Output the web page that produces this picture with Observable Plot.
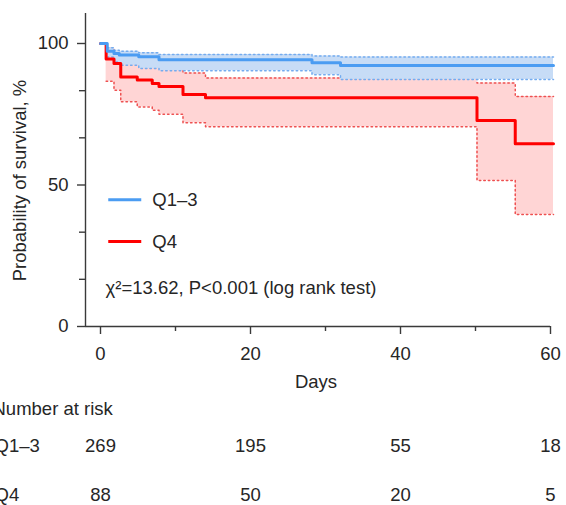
<!DOCTYPE html>
<html>
<head>
<meta charset="utf-8">
<script src="https://cdn.jsdelivr.net/npm/d3@7"></script>
<script src="https://cdn.jsdelivr.net/npm/@observablehq/plot@0.6"></script>
<style>
  body { margin: 0; background: #fff; }
  svg { display: block; }
</style>
</head>
<body>
<div id="chart"></div>
<script>
// ---- data ----
const groups = ["Q1–3", "Q4"];

const q13Days  = [0, 0.9, 1.8, 2.5, 5.1, 7.8, 28.2, 32, 60.4];
const q13Surv  = [100, 97.3, 96.5, 95.9, 95.3, 94.3, 93.2, 92.2, 92.2];
const q13Upper = [null, 98.5, 97.6, 97.3, 96.7, 96.1, 95.6, 95.2, 95.2];
const q13Lower = [null, 95.2, 93.5, 92.3, 91.2, 90.4, 89.0, 87.3, 87.3];

const q4Days  = [0, 0.75, 1.8, 2.7, 4.9, 6.9, 7.8, 11, 14, 50.2, 55.3, 60.4];
const q4Surv  = [100, 94.5, 92.9, 88.2, 87.1, 85.9, 84.8, 82.0, 80.8, 72.8, 64.6, 64.6];
const q4Upper = [null, 98.3, 97.2, 95.0, 94.2, 93.2, 92.4, 89.6, 87.8, 86.0, 81.3, 81.3];
const q4Lower = [null, 86.7, 83.5, 79.4, 77.6, 76.4, 75.0, 72.0, 70.6, 51.6, 39.6, 39.6];

const xTicks = [0, 20, 40, 60];
const xMinorTicks = [10, 30, 50];
const yTicks = [0, 50, 100];
const yMinorTicks = [16.67, 33.33, 66.67, 83.33];

const riskDays = [0, 20, 40, 60];
const riskQ13 = [269, 195, 55, 18];
const riskQ4 = [88, 50, 20, 5];

const statText = "χ²=13.62, P<0.001 (log rank test)";
const yLabel = "Probability of survival, %";
const xLabel = "Days";
const riskTitle = "Number at risk";

// ---- build tables ----
function rows(days, surv, upper, lower) {
  return days.map((d, i) => ({day: d, surv: surv[i], upper: upper[i], lower: lower[i]}));
}
const q13 = rows(q13Days, q13Surv, q13Upper, q13Lower);
const q4 = rows(q4Days, q4Surv, q4Upper, q4Lower);
const q13ci = q13.filter(d => d.upper != null);
const q4ci = q4.filter(d => d.upper != null);

const FONT = "'Liberation Sans', Arial, Helvetica, sans-serif";
const FS = 18.5;
const BLUE = "#4b9cf2", BLUE_FILL = "#c7dcf6", BLUE_DOT = "#74acef";
const RED = "#ff0000", RED_FILL = "#ffd5d5", RED_DOT = "#ee5050";
const AX = "#3a3a3a";
const dotted = {curve: "step-after", strokeWidth: 1.5, strokeDasharray: "1.5,3"};
const mid = {lineAnchor: "middle"};

const chart = Plot.plot({
  width: 566,
  height: 505,
  marginLeft: 85,
  marginRight: 16,
  marginTop: 13,
  marginBottom: 179,
  style: {fontFamily: FONT, fontSize: FS + "px", color: "#262626", background: "white", overflow: "visible"},
  x: {domain: [-2, 60]},
  y: {domain: [0, 110.6]},
  marks: [
    // Q4 confidence band
    Plot.areaY(q4ci, {x: "day", y1: "lower", y2: "upper", curve: "step-after", fill: RED_FILL}),
    Plot.line(q4ci, {x: "day", y: "upper", stroke: RED_DOT, ...dotted}),
    Plot.line(q4ci, {x: "day", y: "lower", stroke: RED_DOT, ...dotted}),
    // Q1-3 confidence band
    Plot.areaY(q13ci, {x: "day", y1: "lower", y2: "upper", curve: "step-after", fill: BLUE_FILL}),
    Plot.line(q13ci, {x: "day", y: "upper", stroke: BLUE_DOT, ...dotted}),
    Plot.line(q13ci, {x: "day", y: "lower", stroke: BLUE_DOT, ...dotted}),
    // survival curves
    Plot.line(q4, {x: "day", y: "surv", curve: "step-after", stroke: RED, strokeWidth: 3}),
    Plot.line(q13, {x: "day", y: "surv", curve: "step-after", stroke: BLUE, strokeWidth: 3}),
    // axes lines
    Plot.ruleY([0], {stroke: AX, strokeWidth: 1.4}),
    Plot.ruleX([-2], {stroke: AX, strokeWidth: 1.4}),
    Plot.axisX({ticks: xTicks, tickSize: 8, tickPadding: 12, label: null, stroke: AX, strokeWidth: 1.4, fill: "#262626"}),
    Plot.axisX({ticks: xMinorTicks, tickSize: 5, label: null, stroke: AX, strokeWidth: 1.4, fill: "none"}),
    Plot.axisY({ticks: yTicks, tickSize: 8, tickPadding: 9, label: null, stroke: AX, strokeWidth: 1.4, fill: "#262626"}),
    Plot.axisY({ticks: yMinorTicks, tickSize: 6, label: null, stroke: AX, strokeWidth: 1.4, fill: "none"}),
    // axis titles
    Plot.text([yLabel], {frameAnchor: "left", rotate: -90, dx: -65, dy: 10.5, textAnchor: "middle", ...mid}),
    Plot.text([xLabel], {frameAnchor: "bottom", dx: -2, dy: 56, textAnchor: "middle", ...mid}),
    // legend
    Plot.ruleY([44.8], {x1: 1.1, x2: 5.5, stroke: BLUE, strokeWidth: 3}),
    Plot.ruleY([30.0], {x1: 1.1, x2: 5.5, stroke: RED, strokeWidth: 3}),
    Plot.text([groups[0]], {x: 6.9, y: 44.6, textAnchor: "start", ...mid}),
    Plot.text([groups[1]], {x: 6.9, y: 30.0, textAnchor: "start", ...mid}),
    Plot.text([statText], {x: 0.67, y: 13.4, textAnchor: "start", ...mid}),
    // number at risk table
    Plot.text([riskTitle], {frameAnchor: "bottom-left", dx: -93, dy: 83, textAnchor: "start", ...mid}),
    Plot.text([groups[0]], {frameAnchor: "bottom-left", dx: -91, dy: 120, textAnchor: "start", ...mid}),
    Plot.text([groups[1]], {frameAnchor: "bottom-left", dx: -91, dy: 169, textAnchor: "start", ...mid}),
    Plot.text(riskDays, {x: d => d, text: (d, i) => String(riskQ13[i]), frameAnchor: "bottom", dy: 120, textAnchor: "middle", ...mid}),
    Plot.text(riskDays, {x: d => d, text: (d, i) => String(riskQ4[i]), frameAnchor: "bottom", dy: 169, textAnchor: "middle", ...mid})
  ]
});
document.getElementById("chart").appendChild(chart);
</script>
</body>
</html>
